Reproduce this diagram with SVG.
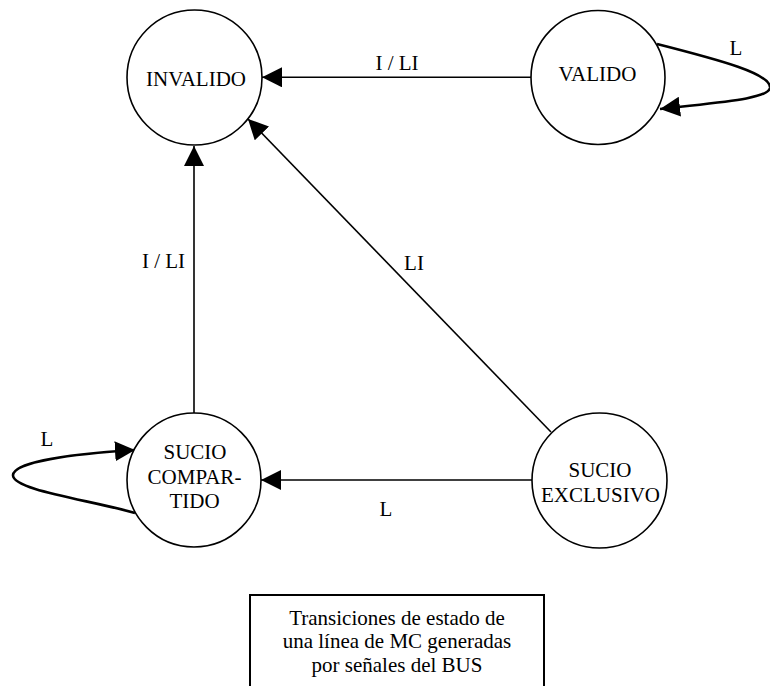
<svg xmlns="http://www.w3.org/2000/svg" width="770" height="686" viewBox="0 0 770 686">
<style>
.node{fill:#fff;stroke:#000;stroke-width:1.6}
.t{font-family:"Liberation Serif","Times New Roman",serif;font-size:21px;fill:#000;text-anchor:middle}
.e{fill:none;stroke:#000;stroke-width:1.6}
.loop{fill:none;stroke:#000;stroke-width:2.6}
</style>
<defs>
<marker id="ah" markerUnits="userSpaceOnUse" markerWidth="20" markerHeight="20" refX="20" refY="10" orient="auto">
<path d="M0,0 L20,10 L0,20 z" fill="#000"/>
</marker>
</defs>
<rect width="770" height="686" fill="#fff"/>
<g id="connectors">
<line class="e" x1="531" y1="77.3" x2="262" y2="77.3" marker-end="url(#ah)"/>
<line class="e" x1="194" y1="413" x2="194" y2="146" marker-end="url(#ah)"/>
<line class="e" x1="551" y1="432" x2="248" y2="119" marker-end="url(#ah)"/>
<line class="e" x1="532" y1="480" x2="261" y2="480" marker-end="url(#ah)"/>
<path class="loop" d="M657,44 C720,60 772,74 770,88 C768,99 720,102 660,109" marker-end="url(#ah)"/>
<path class="loop" d="M135,513 C90,500 12,490 13,475 C14,462 70,454 135,450" marker-end="url(#ah)"/>
<text class="t" x="397" y="70">I / LI</text>
<text class="t" x="163.5" y="268">I / LI</text>
<text class="t" x="414" y="270">LI</text>
<text class="t" x="386" y="516">L</text>
<text class="t" x="736" y="55">L</text>
<text class="t" x="47" y="446">L</text>
</g>
<g id="invalido">
<circle class="node" cx="194.5" cy="77.5" r="67.5"/>
<text class="t" x="196" y="86">INVALIDO</text>
</g>
<g id="valido">
<circle class="node" cx="598" cy="77.5" r="67"/>
<text class="t" x="597.5" y="81">VALIDO</text>
</g>
<g id="sucio-compartido">
<circle class="node" cx="194" cy="480" r="67"/>
<text class="t" x="195" y="459">SUCIO</text>
<text class="t" x="194.5" y="484">COMPAR-</text>
<text class="t" x="194.5" y="508">TIDO</text>
</g>
<g id="sucio-exclusivo">
<circle class="node" cx="599.5" cy="480.5" r="67.5"/>
<text class="t" x="600" y="477">SUCIO</text>
<text class="t" x="600.5" y="502">EXCLUSIVO</text>
</g>
<g id="caption">
<rect x="250" y="595" width="294" height="110" fill="#fff" stroke="#000" stroke-width="2"/>
<text class="t" x="397" y="625">Transiciones de estado de</text>
<text class="t" x="397" y="648">una línea de MC generadas</text>
<text class="t" x="397" y="672">por señales del BUS</text>
</g>
</svg>
